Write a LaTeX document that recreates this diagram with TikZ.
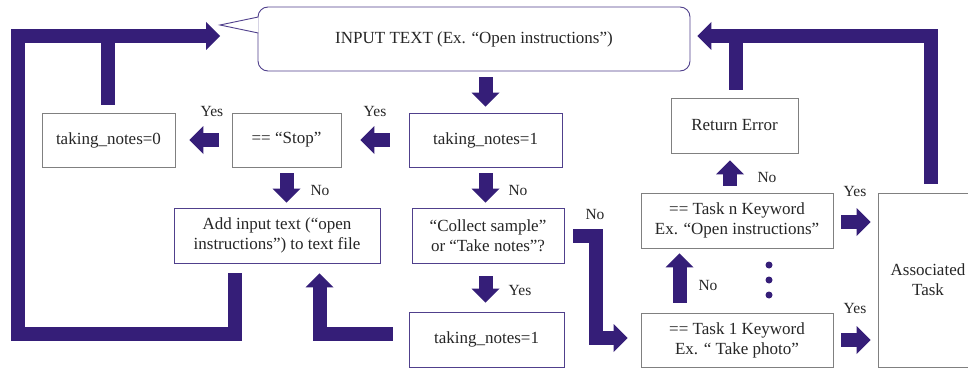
\documentclass[tikz,border=0pt]{standalone}
\usepackage{fontspec}
\setmainfont{Liberation Serif}
\usetikzlibrary{arrows.meta,calc}
\definecolor{arr}{RGB}{53,30,120}
\definecolor{pbord}{RGB}{80,64,140}
\definecolor{gbord}{RGB}{128,128,128}
\definecolor{txt}{RGB}{38,38,38}
\begin{document}
\begin{tikzpicture}[x=1pt,y=-1pt,
  box/.style={draw=gbord, line width=0.9pt, text=txt, font=\fontsize{17}{20}\selectfont, align=center, inner sep=0pt, minimum height=54pt},
  pbox/.style={box, draw=pbord},
  blk/.style={draw=arr, line width=14pt, line join=miter, -{Triangle[width=28pt,length=14pt,line width=0pt]}},
  bar/.style={draw=arr, line width=14pt, line join=miter},
  lbl/.style={text=txt, font=\fontsize{15.5}{18}\selectfont, inner sep=0pt}]
\useasboundingbox (0,0) rectangle (968,369);
\fill[white] (0,0) rectangle (968,369);

% boxes
\node[pbox, rounded corners=10pt, minimum width=432pt, minimum height=64pt] (input) at (474,39) {\raisebox{3.5pt}{INPUT TEXT (Ex. “Open instructions”)}};
\coordinate (ptip) at (220,25);
\draw[draw=pbord, line width=0.9pt, fill=white, line join=miter] ($(input.west)+(0.7,-22)$) -- (ptip) -- ($(input.west)+(0.7,-6)$);

\node[box, minimum width=133pt] (tn0) at (108.5,140) {taking\_notes=0};
\node[box, minimum width=109pt] (stop) at (286.5,140) {== “Stop”};
\node[pbox, minimum width=153pt] (tn1a) at (485.5,140) {taking\_notes=1};
\node[pbox, minimum width=206pt, minimum height=55pt] (add) at (277,235.5) {Add input text (“open\\instructions”) to text file};
\node[pbox, minimum width=152pt, minimum height=55pt] (coll) at (488,235.5) {“Collect sample”\\or “Take notes”?};
\node[pbox, minimum width=155pt, minimum height=55pt] (tn1b) at (486.5,339.5) {taking\_notes=1};
\node[box, minimum width=127pt, minimum height=55pt] (ret) at (734.5,125.5) {Return Error};
\node[box, minimum width=192pt, minimum height=55pt] (taskn) at (737,220.5) {== Task n Keyword\\Ex. “Open instructions”};
\node[box, minimum width=192pt] (task1) at (737,340) {== Task 1 Keyword\\Ex. “ Take photo”};
\node[box, minimum width=100pt, minimum height=174pt] (assoc) at (928,280) {Associated\\Task};

% connectors
\draw[blk, shorten <=6pt, shorten >=6pt] (tn1a.north |- input.south) -- (tn1a.north);
\draw[blk, shorten <=19pt, shorten >=19pt] (tn1a.west) -- (stop.east);
\draw[blk, shorten <=13pt, shorten >=14pt] (stop.west) -- (tn0.east);
\draw[blk, shorten <=6pt, shorten >=5pt] (stop.south) -- (stop.south |- add.north);
\draw[blk, shorten <=6pt, shorten >=5pt] (tn1a.south) -- (tn1a.south |- coll.north);
\draw[blk, shorten <=13pt, shorten >=9pt] (tn1a.south |- coll.south) -- (tn1a.south |- tn1b.north);
\draw[blk] ($(coll.east)+(9,0)$) -- ($(coll.east)+(31.5,0)$) |- ($(task1.west)+(-13,-2)$);
\draw[blk] ($(add.south west)+(61.5,10)$) |- (17.5,334) -- (17.5,36) -- ($(ptip)+(0,11)$);
\draw[bar] ($(tn0.north)+(-1,-8)$) -- (107.5,36);
\draw[blk] ($(assoc.north)+(2.5,-9)$) -- (930.5,36) -- ($(input.east)+(7,-3)$);
\draw[bar] ($(ret.north)+(1,-8)$) -- (735.5,36);
\draw[blk] ($(tn1b.west)+(-16,-5.5)$) -| ($(add.south)+(42.5,10)$);
\draw[blk] ($(taskn.north)+(-7,-7)$) -- ($(ret.south)+(-4.5,7)$);
\draw[blk] ($(task1.north)+(-57.5,-10)$) -- ($(taskn.south)+(-57.5,5)$);
\draw[blk, shorten <=8pt, shorten >=7pt] ($(taskn.east)+(0,1.5)$) -- ($(assoc.west |- taskn.east)+(0,1.5)$);
\draw[blk, shorten <=8pt, shorten >=7pt] (task1.east) -- (assoc.west |- task1.east);

% dots
\fill[arr] (769,265) circle (3.5) (769,280) circle (3.5) (769,295) circle (3.5);

% labels
\node[lbl] (l1) at (212,112) {Yes};
\node[lbl] (l2) at (375,112) {Yes};
\node[lbl] (l3) at (320,190) {No};
\node[lbl] (l4) at (518,190) {No};
\node[lbl] (l5) at (520,290) {Yes};
\node[lbl] (l6) at (595,214) {No};
\node[lbl] (l7) at (767,177) {No};
\node[lbl] (l8) at (708,285) {No};
\node[lbl] (l9) at (855,191) {Yes};
\node[lbl] (l10) at (855,308) {Yes};
\end{tikzpicture}
\end{document}
